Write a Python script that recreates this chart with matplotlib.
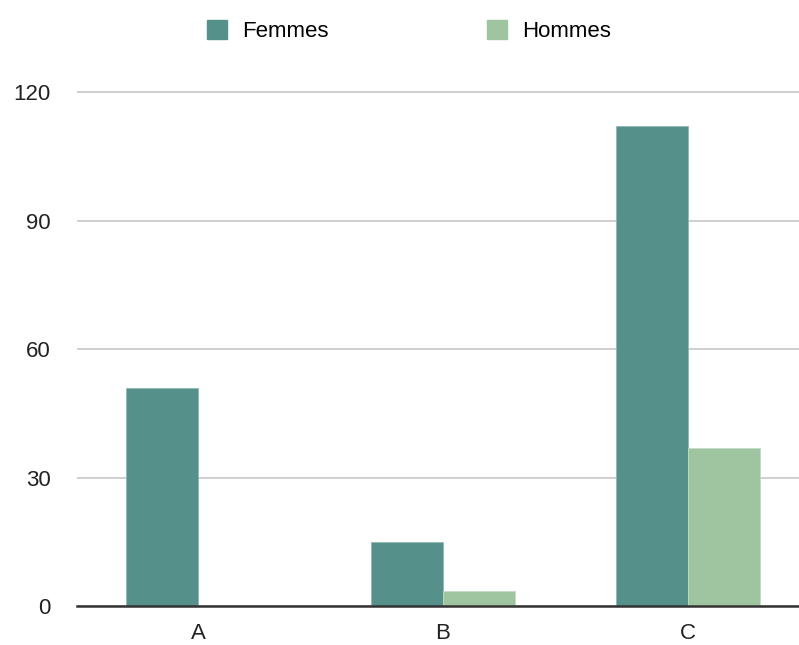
import numpy as np
import matplotlib
matplotlib.use("Agg")
import matplotlib.pyplot as plt
from matplotlib.patches import Patch

plt.rcParams["font.family"] = ["Liberation Sans", "DejaVu Sans"]

categories = ["A", "B", "C"]
femmes = [51, 15, 112]
hommes = [0, 3.5, 37]
series_names = ["Femmes", "Hommes"]
yticks = [0, 30, 60, 90, 120]

COL_F = "#55918a"
COL_H = "#9ec5a0"

W, H = 799, 645
fig = plt.figure(figsize=(W / 100, H / 100), dpi=100)
# axes in pixel terms: left 77, right 799, baseline y=606, top y=85
left, right, bottom, top = 77, 799, 606.3, 85
ax = fig.add_axes([left / W, (H - bottom) / H, (right - left) / W, (bottom - top) / H])

x = np.arange(len(categories))
bw = 0.294
ax.bar(x - bw / 2, femmes, bw, color=COL_F, edgecolor="#8fb9b3", linewidth=0.6, zorder=3)
ax.bar(x + bw / 2, hommes, bw, color=COL_H, edgecolor="#c3dcc4", linewidth=0.6, zorder=3)

# category centres at px 198, 443, 688
step = 245
ax.set_xlim((left - 198) / step, (right - 198) / step)
ax.set_ylim(0, 120 * (bottom - top) / (bottom - 92))

ax.set_xticks(x, categories)
ax.set_yticks(yticks)
ax.tick_params(axis="both", length=0, labelsize=16, colors="#222222")
ax.tick_params(axis="x", pad=12)
ax.tick_params(axis="y", pad=19)
ax.grid(axis="y", color="#cccccc", linewidth=1.3, zorder=0)
for s in ["top", "right", "left"]:
    ax.spines[s].set_visible(False)
ax.spines["bottom"].set_color("#333333")
ax.spines["bottom"].set_linewidth(1.8)
ax.spines["bottom"].set_zorder(4)

handles = [Patch(facecolor=COL_F, edgecolor=COL_F), Patch(facecolor=COL_H, edgecolor=COL_H)]
fig.legend(handles, series_names, loc="center", bbox_to_anchor=(409 / W, 1 - 31 / H),
           ncol=2, frameon=False, fontsize=16, handlelength=0.9, handleheight=0.9,
           handletextpad=0.7, columnspacing=7.1)

fig.savefig("out.png", dpi=100)
